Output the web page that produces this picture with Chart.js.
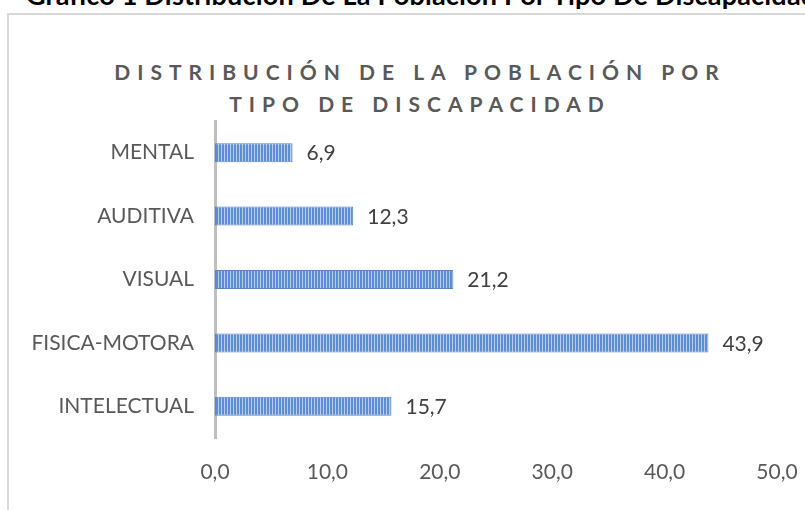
<!DOCTYPE html>
<html>
<head>
<meta charset="utf-8">
<script src="https://cdn.jsdelivr.net/npm/chart.js@4"></script>
<style>
  body { margin: 0; width: 805px; height: 510px; overflow: hidden; background: #fff; font-family: Lato, "Open Sans", sans-serif; }
  #headline { position: absolute; left: 26px; top: -18px; white-space: nowrap; font-weight: bold; font-size: 27px; line-height: 26px; letter-spacing: 0.2px; color: #000; }
  #frame { position: absolute; left: 7px; top: 13px; width: 860px; height: 560px; border: 2px solid #d9d9d9; }
  #title { position: absolute; left: 0; width: 840px; top: 56px; text-align: center; font-weight: bold; font-size: 21px; line-height: 32px; letter-spacing: 7px; color: #595959; }
  #wrap { position: absolute; left: 0; top: 0; width: 805px; height: 510px; }
</style>
</head>
<body>
<div id="headline">Gráfico 1 Distribución De La Población Por Tipo De Discapacidad</div>
<div id="frame"></div>
<div id="title">DISTRIBUCIÓN DE LA POBLACIÓN POR<br>TIPO DE DISCAPACIDAD</div>
<div id="wrap"><canvas id="discChart"></canvas></div>
<script>
const categorias = ['MENTAL', 'AUDITIVA', 'VISUAL', 'FISICA-MOTORA', 'INTELECTUAL'];
const porcentajes = [6.9, 12.3, 21.2, 43.9, 15.7];
const ejeMin = 0;
const ejeMax = 50;
const ejePaso = 10;

// rayas verticales como el relleno de Excel
function rayas() {
    const c = document.createElement('canvas');
    c.width = 3; c.height = 4;
    const g = c.getContext('2d');
    g.fillStyle = '#5d8dd2';
    g.fillRect(0, 0, 3, 4);
    g.fillStyle = '#b8cdec';
    g.fillRect(2, 0, 1, 4);
    return g.createPattern(c, 'repeat');
}

const coma = v => Number(v).toFixed(1).replace('.', ',');
const fuente = 'Lato, "Open Sans", sans-serif';

const etiquetas = {
    id: 'etiquetas',
    afterDatasetsDraw(chart) {
        const ctx = chart.ctx;
        const meta = chart.getDatasetMeta(0);
        ctx.save();
        ctx.font = '21px ' + fuente;
        ctx.fillStyle = '#404040';
        ctx.textAlign = 'left';
        ctx.textBaseline = 'middle';
        meta.data.forEach((bar, i) => {
            ctx.fillText(coma(porcentajes[i]), bar.x + 14, bar.y + 1);
        });
        ctx.restore();
    }
};

const ctx = document.getElementById('discChart');

new Chart(ctx, {
    type: 'bar',
    data: {
        labels: categorias,
        datasets: [{
            label: 'Porcentaje',
            data: porcentajes,
            backgroundColor: rayas(),
            borderColor: '#5a86c8',
            borderWidth: 1,
            borderSkipped: false,
            barPercentage: 0.3,
            categoryPercentage: 1
        }]
    },
    options: {
        indexAxis: 'y',
        responsive: true,
        maintainAspectRatio: false,
        animation: false,
        layout: { padding: { top: 121, right: 28, left: 0, bottom: 0 } },
        plugins: {
            legend: { display: false },
            tooltip: { enabled: false }
        },
        scales: {
            x: {
                min: ejeMin,
                max: ejeMax,
                grid: { display: false, drawTicks: false },
                border: { display: false },
                ticks: {
                    stepSize: ejePaso,
                    padding: 22,
                    color: '#595959',
                    font: { family: fuente, size: 21 },
                    callback: v => coma(v)
                },
                afterFit: s => {
                    s.height = 72;
                    s.paddingLeft = 0;
                    s.paddingRight = 0;
                }
            },
            y: {
                grid: { display: false, drawTicks: false },
                border: { display: true, color: '#bfbfbf', width: 3 },
                ticks: {
                    padding: 21,
                    color: '#595959',
                    font: { family: fuente, size: 21 }
                },
                afterFit: s => { s.width = 215; }
            }
        }
    },
    plugins: [etiquetas]
});
</script>
</body>
</html>
